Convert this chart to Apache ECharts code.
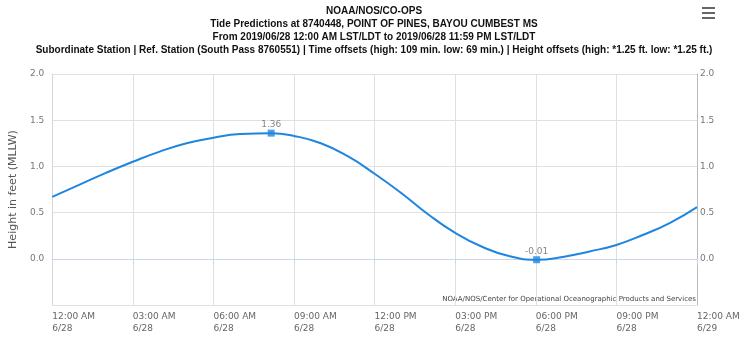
<!DOCTYPE html>
<html>
<head>
<meta charset="utf-8">
<script src="https://cdn.jsdelivr.net/npm/echarts@6/dist/echarts.min.js"></script>
<style>
  html, body { margin: 0; padding: 0; background: #fff; }
  #chart { width: 748px; height: 352px; }
</style>
</head>
<body>
<div id="chart"></div>
<script>
// hours after 12:00 AM 6/28
var hours = [0, 1, 2, 3, 4, 5, 6, 7, 8.15, 9, 10, 11, 12, 13, 14, 15, 16, 17, 18.03, 19, 20, 21, 22, 23, 24];
var heights = [0.67, 0.80, 0.93, 1.05, 1.16, 1.25, 1.31, 1.35, 1.36, 1.33, 1.25, 1.11, 0.92, 0.71, 0.48, 0.28, 0.13, 0.03, -0.01, 0.02, 0.08, 0.15, 0.26, 0.39, 0.56];
var extremesHours = [8.15, 18.03];
var extremesValues = [1.36, -0.01];
var tickLabels = ['12:00 AM\n6/28', '03:00 AM\n6/28', '06:00 AM\n6/28', '09:00 AM\n6/28', '12:00 PM\n6/28',
                  '03:00 PM\n6/28', '06:00 PM\n6/28', '09:00 PM\n6/28', '12:00 AM\n6/29'];
var titleLines = [
  'NOAA/NOS/CO-OPS',
  'Tide Predictions at 8740448, POINT OF PINES, BAYOU CUMBEST MS',
  'From 2019/06/28 12:00 AM LST/LDT to 2019/06/28 11:59 PM LST/LDT',
  'Subordinate Station | Ref. Station (South Pass 8760551) | Time offsets (high: 109 min. low: 69 min.) | Height offsets (high: *1.25 ft. low: *1.25 ft.)'
];

var blue = '#1f86e0';
var chart = echarts.init(document.getElementById('chart'));

var yLabel = function (v) { return v < 0 ? '' : v.toFixed(1); };

var option = {
  animation: false,
  title: {
    text: titleLines.join('\n'),
    left: 'center',
    top: 5,
    padding: 0,
    textStyle: { fontFamily: 'Liberation Sans', fontSize: 10, fontWeight: 'bold', color: '#111', lineHeight: 13 }
  },
  grid: { left: 50, right: 51, top: 74, bottom: 47 },
  xAxis: {
    type: 'value',
    min: 0, max: 24, interval: 3,
    axisLine: { show: true, lineStyle: { color: '#ccd6eb' } },
    axisTick: { show: true, length: 6, lineStyle: { color: '#ccd6eb' } },
    splitLine: { show: true, lineStyle: { color: '#e0e0e0' } },
    axisLabel: {
      align: 'left', margin: 6,
      color: '#666', fontFamily: 'DejaVu Sans', fontSize: 9, lineHeight: 12,
      formatter: function (v) { return tickLabels[v / 3]; }
    }
  },
  yAxis: [{
    type: 'value', min: -0.5, max: 2.0, interval: 0.5,
    name: 'Height in feet (MLLW)', nameLocation: 'middle', nameGap: 33,
    nameTextStyle: { color: '#555', fontFamily: 'DejaVu Sans', fontSize: 11 },
    axisLine: { show: true, lineStyle: { color: '#d6d6d6' } },
    axisTick: { show: false },
    splitLine: { lineStyle: { color: '#e0e0e0' } },
    axisLabel: { color: '#777', fontFamily: 'DejaVu Sans', fontSize: 9, margin: 8, formatter: yLabel }
  }, {
    type: 'value', min: -0.5, max: 2.0, interval: 0.5, position: 'right',
    axisLine: { show: true, lineStyle: { color: '#bbb' } },
    axisTick: { show: false },
    splitLine: { show: false },
    axisLabel: { color: '#777', fontFamily: 'DejaVu Sans', fontSize: 9, margin: 3, formatter: yLabel }
  }],
  series: [{
    type: 'line',
    data: hours.map(function (h, i) { return [h, heights[i]]; }),
    smooth: 0.5,
    showSymbol: false,
    lineStyle: { color: blue, width: 2 },
    z: 3
  }, {
    type: 'scatter',
    data: extremesHours.map(function (h, i) { return [h, extremesValues[i]]; }),
    symbol: 'rect', symbolSize: 7,
    itemStyle: { color: blue },
    label: {
      show: true, position: 'top', distance: 0,
      color: '#666', fontFamily: 'DejaVu Sans', fontSize: 9,
      formatter: function (p) { return p.value[1].toFixed(2); }
    },
    z: 4
  }],
  graphic: [{
    type: 'text', right: 52, top: 296,
    style: { text: 'NOAA/NOS/Center for Operational Oceanographic Products and Services',
             fill: '#444', font: '7px "DejaVu Sans"' }
  }, {
    type: 'group', left: 702, top: 7,
    children: [
      { type: 'rect', shape: { x: 0, y: 0, width: 13, height: 2 }, style: { fill: '#666' } },
      { type: 'rect', shape: { x: 0, y: 5, width: 13, height: 2 }, style: { fill: '#666' } },
      { type: 'rect', shape: { x: 0, y: 10, width: 13, height: 2 }, style: { fill: '#666' } }
    ]
  }]
};
chart.setOption(option);
</script>
</body>
</html>
